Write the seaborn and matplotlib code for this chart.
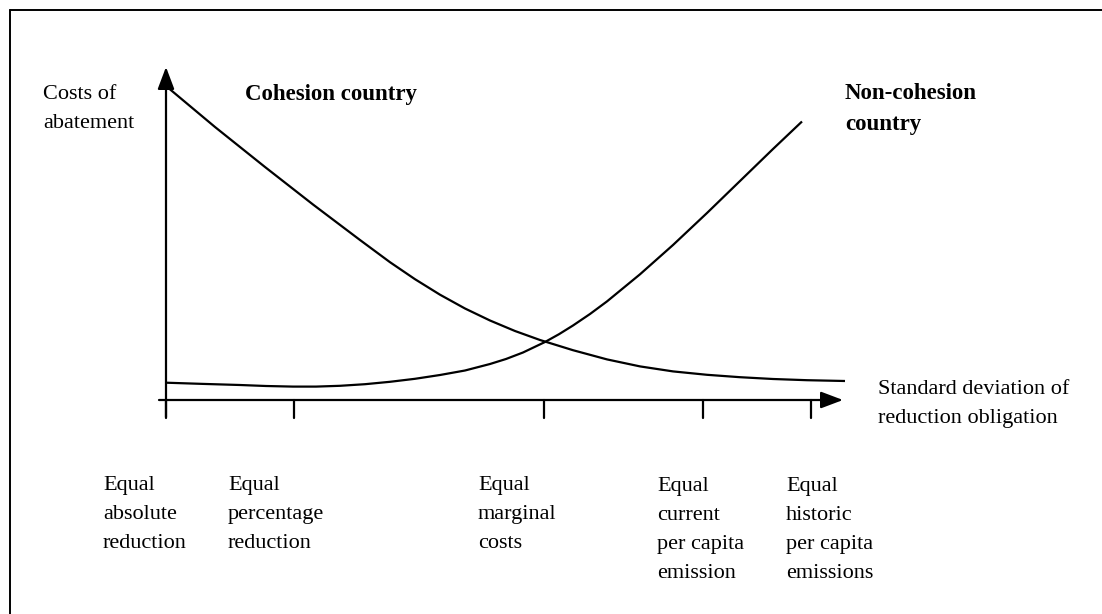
import matplotlib
matplotlib.use("Agg")
import matplotlib.pyplot as plt
import pandas as pd
import seaborn as sns
from matplotlib.lines import Line2D

# Curve readings (x: distance along the horizontal axis, y: abatement cost)
cohesion_x = [0, 49, 99, 147, 194, 224, 249, 274, 299, 324, 349, 374, 407, 441, 474, 507, 541, 574, 607, 641, 679]
cohesion_y = [314, 273, 233, 195.5, 160, 137.8, 120.8, 105.3, 91.5, 79.5, 69, 60, 49.8, 40.6, 33.6, 28.6, 25.2, 22.8, 21, 19.8, 19]

noncohesion_x = [0, 37, 74, 100, 127, 150, 174, 199, 224, 249, 274, 299, 324, 340, 357, 379, 393, 407, 424, 441,
                 474, 507, 541, 574, 607, 636]
noncohesion_y = [17.3, 16.1, 15, 14, 13.4, 13.4, 14.2, 15.8, 18.2, 21.2, 25, 29.5, 36, 41, 47.5, 58, 65.8, 74.5, 86, 98.6,
                 125.7, 155, 187, 219, 251, 278.5]

# Policy options along the x axis
tick_pos = [0, 128, 378, 537, 645]
option_labels = [
    "Equal\nabsolute\nreduction",
    "Equal\npercentage\nreduction",
    "Equal\nmarginal\ncosts",
    "Equal\ncurrent\nper capita\nemission",
    "Equal\nhistoric\nper capita\nemissions",
]
label_x = [-63, 62, 312, 491, 620]

sns.set_theme(style="white")
plt.rcParams["font.family"] = ["Liberation Serif", "DejaVu Serif"]
plt.rcParams["text.color"] = "black"

df = pd.concat([
    pd.DataFrame({"x": cohesion_x, "y": cohesion_y, "country": "Cohesion"}),
    pd.DataFrame({"x": noncohesion_x, "y": noncohesion_y, "country": "Non-cohesion"}),
])

fig = plt.figure(figsize=(11.02, 6.14), dpi=100)
ax = fig.add_axes([0, 0, 1, 1])
ax.set_xlim(-166, 936)
ax.set_ylim(-214, 400)
ax.axis("off")

sns.lineplot(data=df, x="x", y="y", hue="country", palette=["black", "black"],
             linewidth=1.6, legend=False, ax=ax, sort=False,
             solid_joinstyle="round", solid_capstyle="butt")

# axes with arrow heads
arrow = dict(arrowstyle="-|>,head_length=0.45,head_width=0.17", mutation_scale=30,
             color="black", lw=1.6, shrinkA=0, shrinkB=0)
ax.annotate("", xy=(0, 333), xytext=(0, -17), arrowprops=arrow)
ax.annotate("", xy=(677, 0), xytext=(-7, 0), arrowprops=arrow)
for t in tick_pos:
    ax.plot([t, t], [0, -18], color="black", lw=1.6)

fs = 16
ls = 1.72
# va="baseline" on multi-line text anchors the last line
ax.text(-123, 272, "Costs of\nabatement", fontsize=fs, va="baseline", linespacing=ls)
ax.text(79, 300, "Cohesion country", fontsize=16.5, fontweight="bold", va="baseline")
ax.text(679, 270, "Non-cohesion\ncountry", fontsize=16.5, fontweight="bold", va="baseline",
        linespacing=1.65)
ax.text(712, -23, "Standard deviation of\nreduction obligation", fontsize=fs, va="baseline",
        linespacing=ls)
for lx, lab in zip(label_x, option_labels):
    base = -148 if lab.count("\n") == 2 else -178
    ax.text(lx, base, lab, fontsize=fs, va="baseline", linespacing=ls)

# frame lines (top and left only)
fig.add_artist(Line2D([10 / 1102, 1], [1 - 10 / 614] * 2, color="black", lw=1.4))
fig.add_artist(Line2D([10 / 1102] * 2, [0, 1 - 10 / 614], color="black", lw=1.4))

fig.savefig("out.png", dpi=100)
